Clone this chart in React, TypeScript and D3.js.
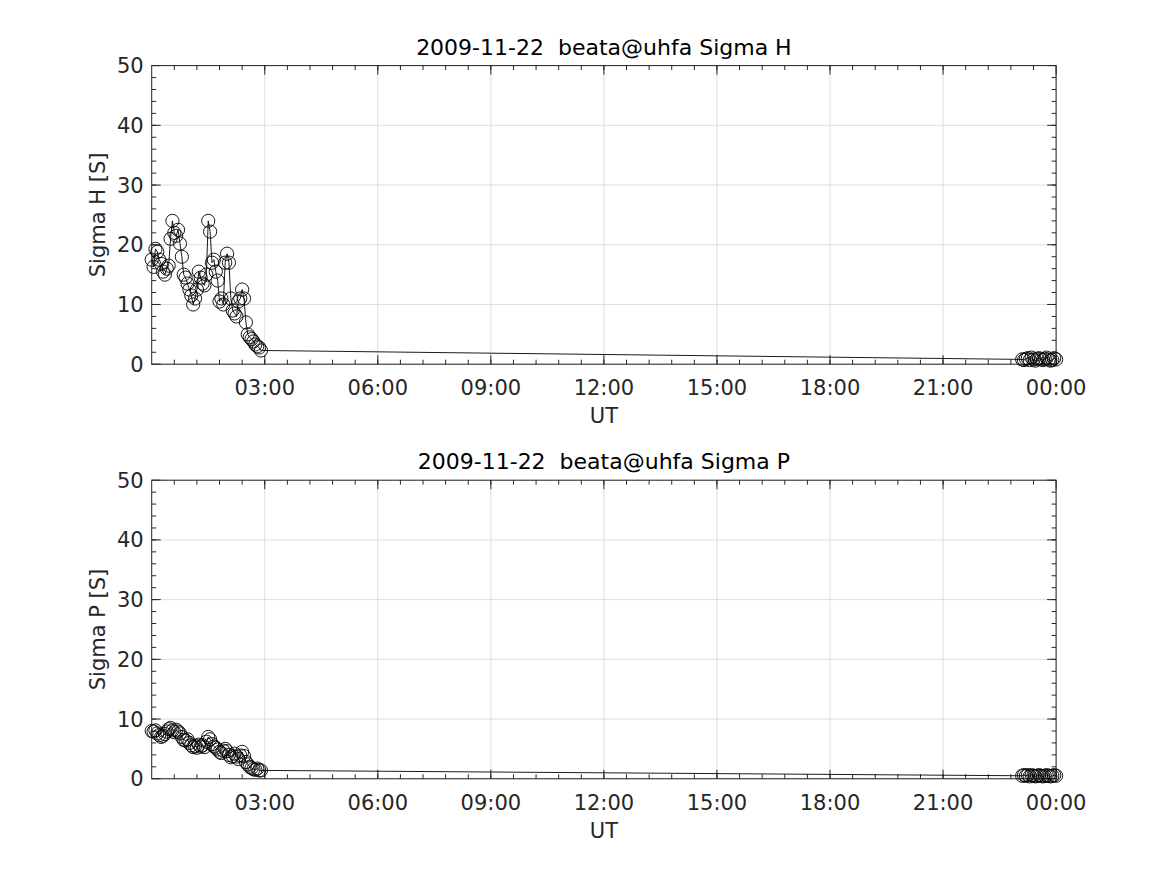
import React from "react";
import * as d3 from "d3";

// Time of each sample, minutes after 2009-11-22 00:00 UT
const earlyMinutes = [0, 3, 6, 9, 12, 15, 18, 21, 24, 27, 30, 33, 36, 39, 42, 45, 48, 51, 54, 57, 60, 63, 66, 69, 72, 75, 78, 81, 84, 87, 90, 93, 96, 99, 102, 105, 108, 111, 114, 117, 120, 123, 126, 129, 132, 135, 138, 141, 144, 147, 150, 153, 156, 159, 162, 165, 168, 171, 174];
const lateMinutes = [1386, 1389, 1392, 1395, 1398, 1401, 1404, 1407, 1410, 1413, 1416, 1419, 1422, 1425, 1428, 1431, 1434, 1437, 1440];

const sigmaHEarly = [17.5, 16.3, 19.3, 18.8, 17.5, 16.8, 15.5, 15, 16, 16.5, 21, 24, 22, 21.5, 22.5, 20.2, 18, 15, 14.5, 13.5, 12.5, 11.5, 10, 11, 12.5, 15.5, 14.5, 13.5, 13.2, 15, 24, 22.2, 17, 17.5, 15.5, 14, 10.5, 11, 10, 17, 18.5, 17, 11, 9, 8.5, 8, 10.5, 11, 12.5, 11, 7, 5, 4.5, 4.2, 3.8, 3.3, 3, 2.8, 2.3];
const sigmaHLate = [0.8, 0.7, 0.9, 1.0, 0.7, 1.1, 0.8, 0.6, 0.9, 1.0, 0.8, 0.7, 0.9, 1.1, 0.8, 0.6, 0.7, 1.0, 0.8];

const sigmaPEarly = [8.0, 7.9, 8.1, 7.6, 7.3, 7.0, 7.2, 7.5, 7.9, 8.3, 8.5, 8.1, 7.8, 8.2, 7.9, 7.6, 7.0, 6.5, 6.4, 6.6, 6.0, 5.6, 5.3, 5.5, 5.2, 5.7, 5.4, 5.6, 5.3, 6.2, 7.0, 6.6, 5.8, 5.4, 5.2, 4.9, 4.5, 4.3, 4.7, 5.0, 4.6, 4.0, 3.6, 3.8, 4.2, 3.7, 3.3, 3.9, 4.5, 3.8, 2.8, 2.4, 2.0, 1.8, 1.6, 1.5, 1.7, 1.4, 1.4];
const sigmaPLate = [0.5, 0.6, 0.5, 0.6, 0.4, 0.6, 0.5, 0.4, 0.5, 0.6, 0.5, 0.4, 0.5, 0.6, 0.5, 0.4, 0.5, 0.6, 0.5];

const xTickHours = [3, 6, 9, 12, 15, 18, 21, 24];
const xTickLabels = ["03:00", "06:00", "09:00", "12:00", "15:00", "18:00", "21:00", "00:00"];
const yTicks = [0, 10, 20, 30, 40, 50];

const panels = [
  { title: "2009-11-22  beata@uhfa Sigma H", ylabel: "Sigma H [S]", values: sigmaHEarly.concat(sigmaHLate) },
  { title: "2009-11-22  beata@uhfa Sigma P", ylabel: "Sigma P [S]", values: sigmaPEarly.concat(sigmaPLate) },
];

const W = 1167;
const H = 875;
const LEFT = 151.7;
const RIGHT = 1056.1;
const PANEL_Y = [
  [65.6, 364.2],
  [480.2, 778.75],
];
const FONT = "'DejaVu Sans', sans-serif";
const AX = "#262626";
const GRID = "#dedede";

function Panel({ top, bottom, title, ylabel, values }) {
  const times = earlyMinutes.concat(lateMinutes).map((m) => m / 60);
  const x = d3.scaleLinear().domain([0, 24]).range([LEFT, RIGHT]);
  const y = d3.scaleLinear().domain([0, 50]).range([bottom, top]);
  const pts = times.map((t, i) => [x(t), y(values[i])]);
  const line = d3.line()(pts);
  const minorX = d3.range(0, 24.001, 0.6).filter((h) => h > 0.01 && h < 23.99);
  const minorY = d3.range(0, 50.001, 2).filter((v) => v > 0 && v < 50);
  const MAJ = 9;
  const MIN = 4.5;
  return (
    <g>
      {xTickHours.map((h) => (
        <line key={"gx" + h} x1={x(h)} x2={x(h)} y1={top} y2={bottom} stroke={GRID} strokeWidth={1} />
      ))}
      {yTicks.map((v) => (
        <line key={"gy" + v} x1={LEFT} x2={RIGHT} y1={y(v)} y2={y(v)} stroke={GRID} strokeWidth={1} />
      ))}
      {minorX.map((h) => (
        <g key={"mx" + h}>
          <line x1={x(h)} x2={x(h)} y1={bottom} y2={bottom - MIN} stroke={AX} strokeWidth={1} />
          <line x1={x(h)} x2={x(h)} y1={top} y2={top + MIN} stroke={AX} strokeWidth={1} />
        </g>
      ))}
      {xTickHours.map((h) => (
        <g key={"tx" + h}>
          <line x1={x(h)} x2={x(h)} y1={bottom} y2={bottom - MAJ} stroke={AX} strokeWidth={1} />
          <line x1={x(h)} x2={x(h)} y1={top} y2={top + MAJ} stroke={AX} strokeWidth={1} />
        </g>
      ))}
      {minorY.map((v) => (
        <g key={"my" + v}>
          <line x1={LEFT} x2={LEFT + MIN} y1={y(v)} y2={y(v)} stroke={AX} strokeWidth={1} />
          <line x1={RIGHT} x2={RIGHT - MIN} y1={y(v)} y2={y(v)} stroke={AX} strokeWidth={1} />
        </g>
      ))}
      {yTicks.map((v) => (
        <g key={"ty" + v}>
          <line x1={LEFT} x2={LEFT + MAJ} y1={y(v)} y2={y(v)} stroke={AX} strokeWidth={1} />
          <line x1={RIGHT} x2={RIGHT - MAJ} y1={y(v)} y2={y(v)} stroke={AX} strokeWidth={1} />
          <text x={LEFT - 8} y={y(v)} dy="0.36em" textAnchor="end" fontSize={21} fill={AX} fontFamily={FONT}>
            {v}
          </text>
        </g>
      ))}
      <rect x={LEFT} y={top} width={RIGHT - LEFT} height={bottom - top} fill="none" stroke={AX} strokeWidth={1} />
      {xTickHours.map((h, i) => (
        <text key={"lx" + h} x={x(h)} y={bottom + 31} textAnchor="middle" fontSize={21} fill={AX} fontFamily={FONT}>
          {xTickLabels[i]}
        </text>
      ))}
      <text x={(LEFT + RIGHT) / 2} y={bottom + 59} textAnchor="middle" fontSize={21} fill={AX} fontFamily={FONT}>
        UT
      </text>
      <text
        transform={`translate(105,${(top + bottom) / 2}) rotate(-90)`}
        textAnchor="middle"
        fontSize={21}
        fill={AX}
        fontFamily={FONT}
      >
        {ylabel}
      </text>
      <text
        x={(LEFT + RIGHT) / 2}
        y={top - 11}
        textAnchor="middle"
        fontSize={22}
        fill="#000"
        fontFamily={FONT}
        style={{ whiteSpace: "pre" }}
      >
        {title}
      </text>
      <path d={line} fill="none" stroke="#000" strokeWidth={0.9} />
      {pts.map((p, i) => (
        <circle key={"c" + i} cx={p[0]} cy={p[1]} r={6.6} fill="none" stroke="#000" strokeWidth={0.9} />
      ))}
    </g>
  );
}

export default function App() {
  return (
    <svg
      width={W}
      height={H}
      style={{ position: "absolute", left: 0, top: 0, background: "#fff" }}
    >
      <rect x={0} y={0} width={W} height={H} fill="#fff" />
      {panels.map((p, i) => (
        <Panel key={i} top={PANEL_Y[i][0]} bottom={PANEL_Y[i][1]} title={p.title} ylabel={p.ylabel} values={p.values} />
      ))}
    </svg>
  );
}
